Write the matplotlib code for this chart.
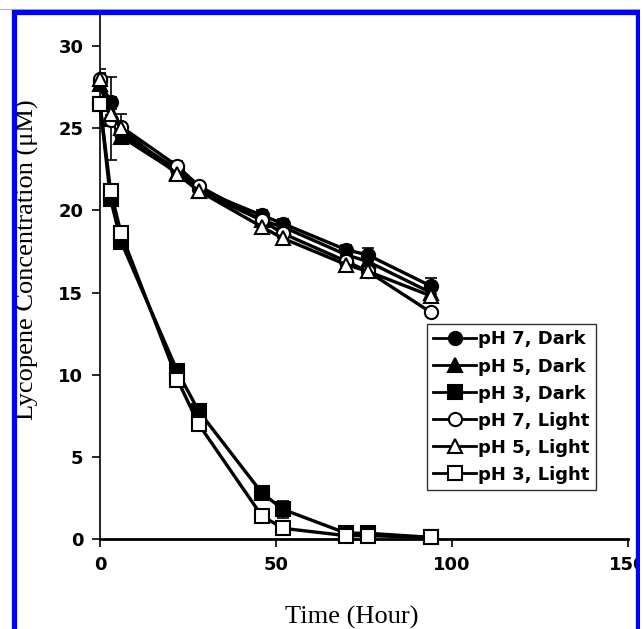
import matplotlib
matplotlib.use('Agg')
import matplotlib.pyplot as plt
from matplotlib.patches import Rectangle
from matplotlib.lines import Line2D

# sampling times (hours)
time_h = [0, 3, 6, 22, 28, 46, 52, 70, 76, 94]

# lycopene concentration (uM)
ph7_dark = [27.9, 26.6, 24.7, 22.5, 21.3, 19.7, 19.2, 17.6, 17.3, 15.4]
ph5_dark = [27.7, 25.6, 24.5, 22.3, 21.2, 19.4, 19.0, 17.3, 16.9, 15.0]
ph3_dark = [26.5, 20.7, 18.1, 10.2, 7.8, 2.8, 1.8, 0.35, 0.35, 0.1]
ph7_light = [28.0, 25.5, 25.1, 22.7, 21.5, 19.4, 18.6, 16.9, 16.3, 13.8]
ph5_light = [28.0, 25.9, 25.0, 22.2, 21.2, 19.0, 18.3, 16.7, 16.3, 14.8]
ph3_light = [26.5, 21.2, 18.6, 9.7, 7.0, 1.4, 0.65, 0.2, 0.2, 0.1]

# error bars (standard deviation)
err_ph7_dark = [0.7, 0.3, 0.3, 0.3, 0.2, 0.3, 0.3, 0.3, 0.4, 0.5]
err_ph5_dark = [0.5, 2.5, 0.3, 0.3, 0.2, 0.3, 0.3, 0.3, 0.3, 0.3]
err_ph3_dark = [0.3, 0.3, 0.3, 0.2, 0.2, 0.2, 0.5, 0.1, 0.1, 0.05]
err_ph7_light = [0.3, 0.3, 0.8, 0.3, 0.2, 0.3, 0.3, 0.3, 0.3, 0.2]
err_ph5_light = [0.4, 0.3, 0.3, 0.3, 0.2, 0.4, 0.3, 0.3, 0.3, 0.3]
err_ph3_light = [0.3, 0.3, 0.3, 0.2, 0.2, 0.2, 0.2, 0.1, 0.1, 0.05]

labels = ['pH 7, Dark', 'pH 5, Dark', 'pH 3, Dark',
          'pH 7, Light', 'pH 5, Light', 'pH 3, Light']
series = [ph7_dark, ph5_dark, ph3_dark, ph7_light, ph5_light, ph3_light]
errors = [err_ph7_dark, err_ph5_dark, err_ph3_dark,
          err_ph7_light, err_ph5_light, err_ph3_light]
markers = ['o', '^', 's', 'o', '^', 's']
faces = ['black', 'black', 'black', 'white', 'white', 'white']
msizes = [9.5, 10.5, 10, 9.5, 10.5, 10]

fig = plt.figure(figsize=(6.43, 6.29), dpi=100)
ax = fig.add_axes([0.1555, 0.1431, 0.8212, 0.8330])

handles = []
for ys, es, mk, fc, ms, lab in zip(series, errors, markers, faces, msizes, labels):
    ax.errorbar(time_h, ys, yerr=es, fmt='none', ecolor='black',
                elinewidth=1.2, capsize=4, capthick=1.2, zorder=2)
    ax.plot(time_h, ys, color='black', lw=2.4, marker=mk, markersize=ms,
            markerfacecolor=fc, markeredgecolor='black', markeredgewidth=1.5,
            zorder=3, clip_on=False)
    handles.append(Line2D([], [], color='black', lw=2.0, marker=mk,
                          markersize=ms, markerfacecolor=fc,
                          markeredgecolor='black', markeredgewidth=1.5))

ax.set_xlim(0, 150)
ax.set_ylim(0, 31.9)
ax.set_xticks([0, 50, 100, 150])
ax.set_yticks([0, 5, 10, 15, 20, 25, 30])
for s in ['top', 'right']:
    ax.spines[s].set_visible(False)
ax.spines['left'].set_linewidth(1.2)
ax.spines['bottom'].set_linewidth(2.0)
ax.tick_params(direction='out', length=6, width=1.2, labelsize=13, pad=6)
for t in ax.get_xticklabels() + ax.get_yticklabels():
    t.set_fontweight('bold')

leg = ax.legend(handles, labels, loc='upper left', bbox_to_anchor=(0.619, 0.410),
                borderaxespad=0, frameon=True, fancybox=False, handlelength=2.4,
                handletextpad=0.1, labelspacing=0.5, borderpad=0.35,
                prop={'weight': 'bold', 'size': 13})
leg.get_frame().set_edgecolor('black')
leg.get_frame().set_linewidth(1.0)

fig.text(27 / 643, 1 - 260 / 629, 'Lycopene Concentration (\u03bcM)',
         rotation=90, ha='center', va='center',
         family='Liberation Serif', fontsize=19)
fig.text(352 / 643, 0.008, 'Time (Hour)', ha='center', va='baseline',
         family='Liberation Serif', fontsize=19)

# blue frame around the figure
fig.patches.append(Rectangle((13.5 / 643, -0.003), (637.5 - 13.5) / 643,
                             (1 - 12.5 / 629) + 0.003, transform=fig.transFigure,
                             fill=False, edgecolor='#0000ff', lw=3.8, zorder=10))
fig.lines.append(Line2D([0, 1], [1 - 9 / 629, 1 - 9 / 629], transform=fig.transFigure,
                        color='#b0b0c8', lw=0.8))
fig.patches.append(Rectangle((640 / 643, 0), 3 / 643, 1, transform=fig.transFigure,
                             facecolor='white', edgecolor='none', zorder=11))

fig.savefig('out.png', dpi=100)
